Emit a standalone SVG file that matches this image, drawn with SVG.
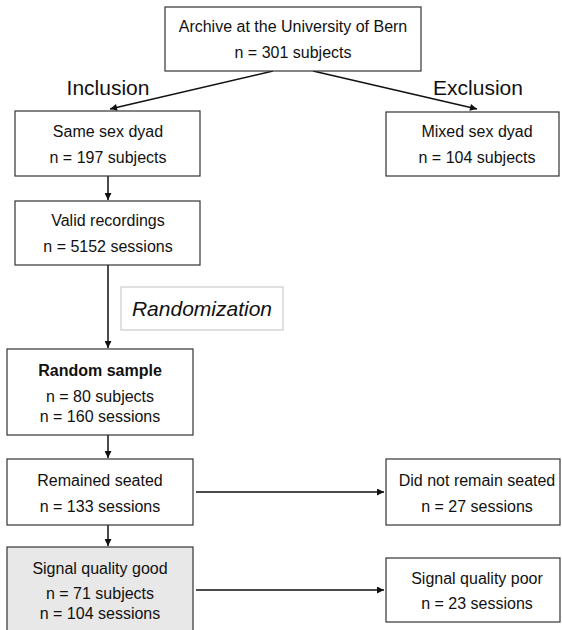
<svg xmlns="http://www.w3.org/2000/svg" width="562" height="630" viewBox="0 0 562 630">
<defs>
<style>
.box{fill:#fff;stroke:#333;stroke-width:1.2}
.t{font-family:"Liberation Sans",Arial,sans-serif;font-size:16px;fill:#111;text-anchor:middle}
.b{font-weight:bold}
.lbl{font-family:"Liberation Sans",Arial,sans-serif;font-size:21px;fill:#111;text-anchor:middle}
.c{stroke:#111;stroke-width:1.5;fill:none;marker-end:url(#ah)}
</style>
<marker id="ah" viewBox="0 0 10 10" refX="10" refY="5" markerWidth="8" markerHeight="7" markerUnits="userSpaceOnUse" orient="auto">
<path d="M0,0 L10,5 L0,10 z" fill="#111"/>
</marker>
</defs>
<rect width="562" height="630" fill="#fff"/>
<g id="connectors">
<line class="c" x1="273" y1="71" x2="110" y2="109"/>
<line class="c" x1="313" y1="71" x2="477" y2="109"/>
<line class="c" x1="108" y1="176" x2="108" y2="200"/>
<line class="c" x1="108" y1="265" x2="108" y2="348"/>
<line class="c" x1="108" y1="435" x2="108" y2="458"/>
<line class="c" x1="196" y1="492" x2="384" y2="492"/>
<line class="c" x1="108" y1="525" x2="108" y2="546"/>
<line class="c" x1="196" y1="590" x2="384" y2="590"/>
</g>
<g id="labels">
<text class="lbl" x="108" y="95">Inclusion</text>
<text class="lbl" x="478" y="95">Exclusion</text>
</g>
<g id="archive">
<rect class="box" x="165" y="7" width="256" height="64"/>
<text class="t" x="293" y="32">Archive at the University of Bern</text>
<text class="t" x="293" y="58">n = 301 subjects</text>
</g>
<g id="same-sex">
<rect class="box" x="15" y="111" width="185" height="65"/>
<text class="t" x="108" y="137">Same sex dyad</text>
<text class="t" x="108" y="163">n = 197 subjects</text>
</g>
<g id="mixed-sex">
<rect class="box" x="386" y="112" width="173" height="64"/>
<text class="t" x="477" y="137">Mixed sex dyad</text>
<text class="t" x="477" y="163">n = 104 subjects</text>
</g>
<g id="valid">
<rect class="box" x="15" y="201" width="185" height="64"/>
<text class="t" x="108" y="226">Valid recordings</text>
<text class="t" x="108" y="252">n = 5152 sessions</text>
</g>
<g id="randomization">
<rect x="121" y="287" width="162" height="43" fill="#fff" stroke="#ccc" stroke-width="1.2"/>
<text class="lbl" x="202" y="316" font-style="italic">Randomization</text>
</g>
<g id="random-sample">
<rect class="box" x="7" y="349" width="186" height="86"/>
<text class="t b" x="100" y="376">Random sample</text>
<text class="t" x="100" y="402">n = 80 subjects</text>
<text class="t" x="100" y="422">n = 160 sessions</text>
</g>
<g id="remained">
<rect class="box" x="7" y="459" width="186" height="66"/>
<text class="t" x="100" y="486">Remained seated</text>
<text class="t" x="100" y="512">n = 133 sessions</text>
</g>
<g id="not-remained">
<rect class="box" x="386" y="459" width="174" height="66"/>
<text class="t" x="477" y="486">Did not remain seated</text>
<text class="t" x="477" y="512">n = 27 sessions</text>
</g>
<g id="good">
<rect x="7" y="547" width="186" height="90" fill="#e8e8e8" stroke="#333" stroke-width="1.2"/>
<text class="t" x="100" y="574">Signal quality good</text>
<text class="t" x="100" y="599">n = 71 subjects</text>
<text class="t" x="100" y="619">n = 104 sessions</text>
</g>
<g id="poor">
<rect class="box" x="386" y="558" width="174" height="64"/>
<text class="t" x="477" y="584">Signal quality poor</text>
<text class="t" x="477" y="609">n = 23 sessions</text>
</g>
</svg>
